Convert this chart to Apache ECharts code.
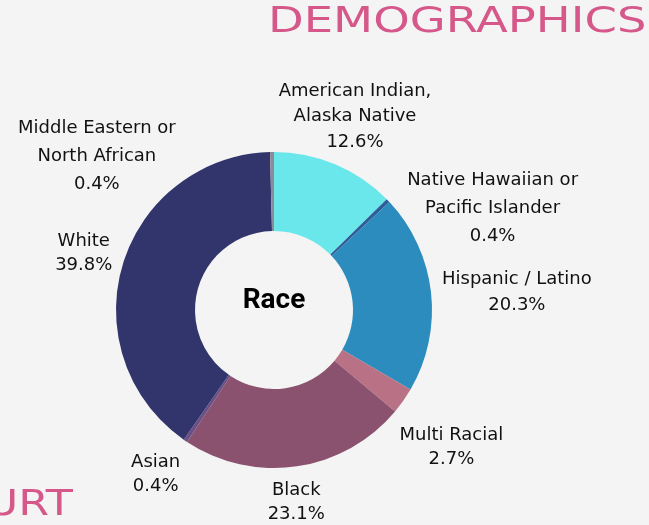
<!DOCTYPE html>
<html>
<head>
<meta charset="utf-8">
<script src="https://cdn.jsdelivr.net/npm/echarts@6/dist/echarts.min.js"></script>
<style>
html,body{margin:0;padding:0;background:#f4f4f4;}
#chart{width:649px;height:525px;}
</style>
</head>
<body>
<div id="chart"></div>
<script>
// data
var categories = ['American Indian,\nAlaska Native', 'Native Hawaiian or\nPacific Islander', 'Hispanic / Latino',
    'Multi Racial', 'Black', 'Asian', 'White', 'Middle Eastern or\nNorth African'];
var values = [12.6, 0.4, 20.3, 2.7, 23.1, 0.4, 39.8, 0.4];
var colors = ['#6ae7ea', '#2f5d99', '#2b8cbd', '#b97285', '#8b526f', '#6b4f86', '#31356b', '#8c8c99'];

// pie geometry
var CX = 274, CY = 310, R_IN = 79, R_OUT = 158;
// label spacing; crowded small slices get pushed round
var labelPad = 7;
var tweaks = {
    0: {pad: -3, lineHeight: 25.5},
    1: {angle: 65, pad: -12, lineHeight: 28},
    2: {shift: 2.3, pad: 10, lineHeight: 26},
    3: {shift: 2.6, pad: 11},
    4: {shift: 1.7, pad: 10},
    5: {shift: 1.6, pad: 11},
    7: {angle: 311, pad: -9, lineHeight: 28}
};

var total = 0;
values.forEach(function (v) { total += v; });

function boxDist(x, y, a, b) {
    var dx = Math.max(Math.abs(x) - a, 0);
    var dy = Math.max(Math.abs(y) - b, 0);
    return Math.sqrt(dx * dx + dy * dy);
}

//标签放在扇区中线方向，刚好贴着外圆
function placeLabel(params) {
    var i = params.dataIndex;
    var before = 0;
    for (var j = 0; j < i; j++) before += values[j];
    var t = tweaks[i] || {};
    var deg = t.angle != null ? t.angle : (before + values[i] / 2) / total * 360 + (t.shift || 0);
    var rad = deg * Math.PI / 180;
    var ux = Math.sin(rad), uy = -Math.cos(rad);
    var a = params.labelRect.width / 2, b = params.labelRect.height / 2;
    var target = R_OUT + (t.pad != null ? t.pad : labelPad);
    var lo = 0, hi = 600;
    for (var k = 0; k < 40; k++) {
        var m = (lo + hi) / 2;
        if (boxDist(m * ux, m * uy, a, b) < target) lo = m; else hi = m;
    }
    return {x: CX + hi * ux, y: CY + hi * uy, align: 'center', verticalAlign: 'middle'};
}

var pieData = categories.map(function (name, i) {
    var item = {name: name, value: values[i], itemStyle: {color: colors[i]}};
    if (tweaks[i] && tweaks[i].lineHeight) item.label = {lineHeight: tweaks[i].lineHeight};
    return item;
});

var chart = echarts.init(document.getElementById('chart'));
chart.setOption({
    backgroundColor: '#f4f4f4',
    animation: false,
    graphic: [
        {
            type: 'text', x: 268, y: 23, scaleX: 1.29,
            style: {text: 'DEMOGRAPHICS', x: 0, y: 0, align: 'left', verticalAlign: 'middle',
                font: '36px "DejaVu Sans"', fill: '#d6588a'}
        },
        {
            type: 'text', x: 73, y: 506, scaleX: 1.27,
            style: {text: 'COURT', x: 0, y: 0, align: 'right', verticalAlign: 'middle',
                font: '35px "DejaVu Sans"', fill: '#d6588a'}
        },
        {
            type: 'text', x: CX, y: 301,
            style: {text: 'Race', align: 'center', verticalAlign: 'middle',
                font: 'bold 28px Roboto', fill: '#000'}
        }
    ],
    series: [{
        type: 'pie',
        center: [CX, CY],
        radius: [R_IN, R_OUT],
        startAngle: 90,
        clockwise: true,
        avoidLabelOverlap: false,
        emphasis: {scale: false},
        itemStyle: {borderWidth: 0},
        label: {
            show: true,
            position: 'outside',
            color: '#111',
            fontFamily: 'DejaVu Sans',
            fontSize: 18,
            lineHeight: 24,
            align: 'center',
            formatter: function (p) {
                return p.name + '\n' + p.value.toFixed(1) + '%';
            }
        },
        labelLine: {show: false},
        labelLayout: placeLabel,
        data: pieData
    }]
});
</script>
</body>
</html>
